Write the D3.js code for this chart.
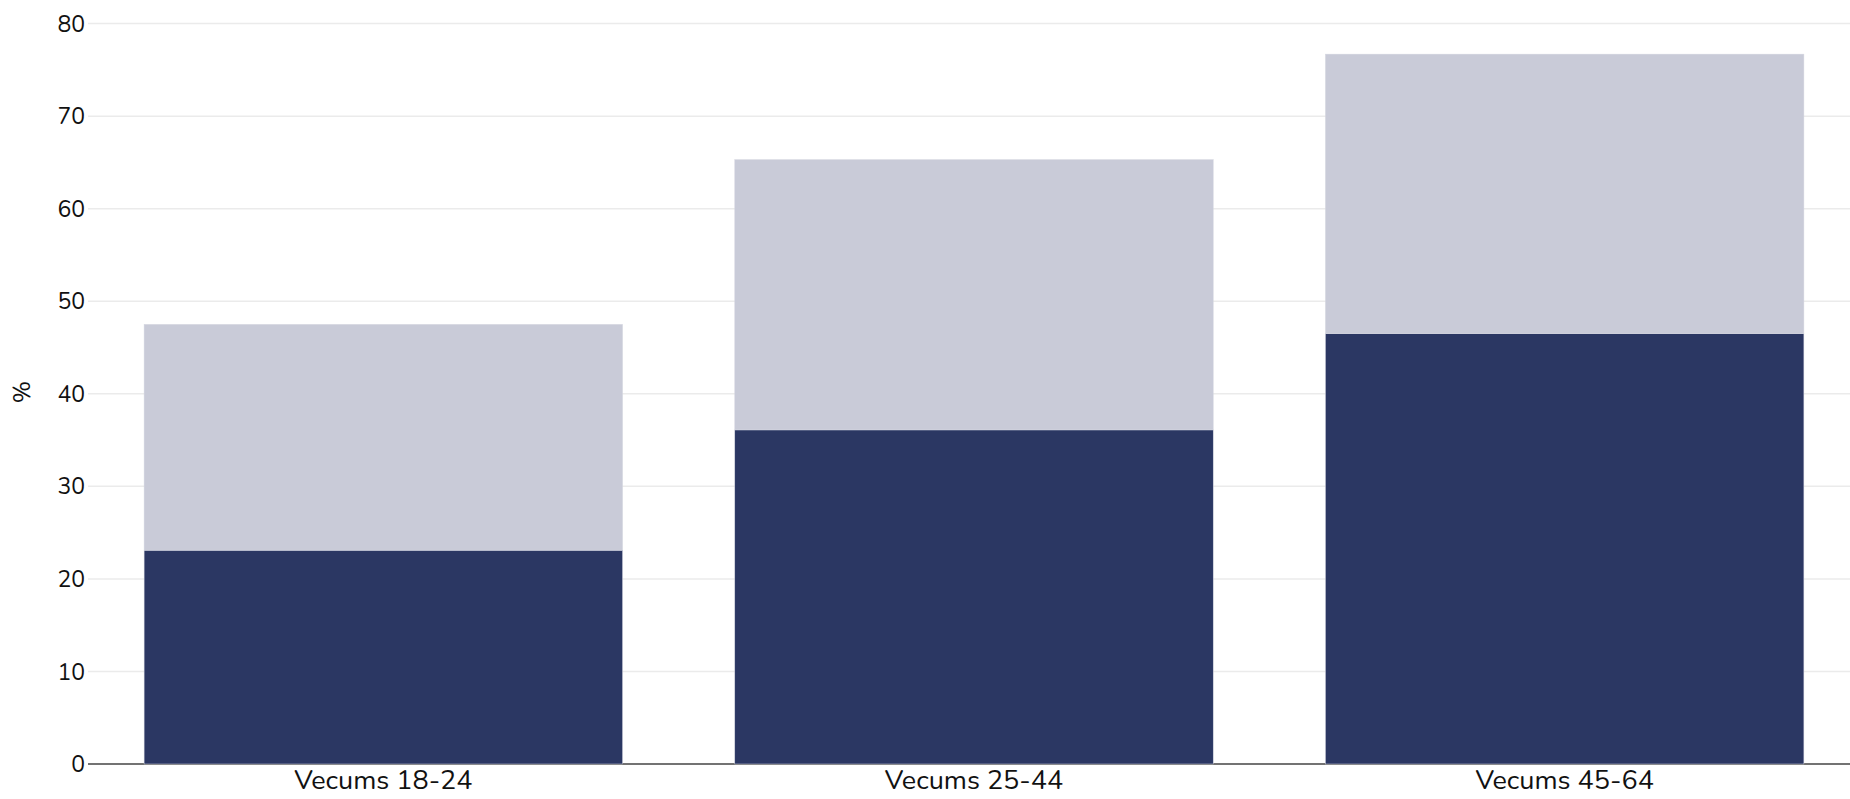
<!DOCTYPE html>
<html>
<head>
<meta charset="utf-8">
<script src="https://cdn.jsdelivr.net/npm/d3@7"></script>
<style>
  body { margin: 0; background: #fff; }
  text { font-family: Nunito, Lato, sans-serif; fill: #111; }
</style>
</head>
<body>
<script>
var categories = ["Vecums 18-24", "Vecums 25-44", "Vecums 45-64"];
var seriesKeys = ["lower", "upper"];
var lowerValues = [23.1, 36.1, 46.5];
var upperValues = [24.4, 29.2, 30.2];   // stacked on top of lower
var yTicks = [0, 10, 20, 30, 40, 50, 60, 70, 80];
var colors = ["#2b3763", "#c9cbd8"];

var width = 1850;
var height = 799;

var rows = categories.map(function (c, i) {
    return { cat: c, lower: lowerValues[i], upper: upperValues[i] };
});

const svg = d3.select("body")
    .append("svg")
    .attr("width", width)
    .attr("height", height);

const x = d3.scaleBand()
    .domain(categories)
    .range([88, 1860])
    .paddingInner(0.19)
    .paddingOuter(0.095);

const y = d3.scaleLinear()
    .domain([0, 80])
    .range([764, 23.6]);

// grid
svg.append("g")
    .selectAll("line")
    .data(yTicks.filter(function (d) { return d > 0 }))
    .enter()
    .append("line")
    .attr("x1", 88)
    .attr("x2", width)
    .attr("y1", function (d) { return y(d) })
    .attr("y2", function (d) { return y(d) })
    .attr("stroke", "#ebebeb")
    .attr("stroke-width", 1.5);

// y tick labels
svg.append("g")
    .selectAll("text")
    .data(yTicks)
    .enter()
    .append("text")
    .attr("x", 85)
    .attr("y", function (d) { return y(d) })
    .attr("dy", "0.35em")
    .attr("text-anchor", "end")
    .style("font-size", "23px")
    .text(function (d) { return d });

// zero line
svg.append("line")
    .attr("x1", 88)
    .attr("x2", width)
    .attr("y1", y(0))
    .attr("y2", y(0))
    .attr("stroke", "#444")
    .attr("stroke-width", 1.5);

const stacked = d3.stack().keys(seriesKeys)(rows);

svg.append("g")
    .selectAll("g")
    .data(stacked)
    .enter()
    .append("g")
    .attr("fill", function (d, i) { return colors[i] })
    .selectAll("rect")
    .data(function (d) { return d })
    .enter()
    .append("rect")
    .attr("x", function (d) { return x(d.data.cat) })
    .attr("width", x.bandwidth())
    .attr("y", function (d) { return y(d[1]) })
    .attr("height", function (d) { return y(d[0]) - y(d[1]) })
    .attr("stroke", "#d4d6e0")
    .attr("stroke-width", 0.5);

// x labels
svg.append("g")
    .selectAll("text")
    .data(categories)
    .enter()
    .append("text")
    .attr("x", function (d) { return x(d) + x.bandwidth() / 2 })
    .attr("y", 789)
    .attr("text-anchor", "middle")
    .style("font-size", "27px")
    .text(function (d) { return d });

// y title
svg.append("text")
    .attr("transform", "translate(22,392) rotate(-90)")
    .attr("dy", "0.35em")
    .attr("text-anchor", "middle")
    .style("font-size", "24px")
    .text("%");
</script>
</body>
</html>
